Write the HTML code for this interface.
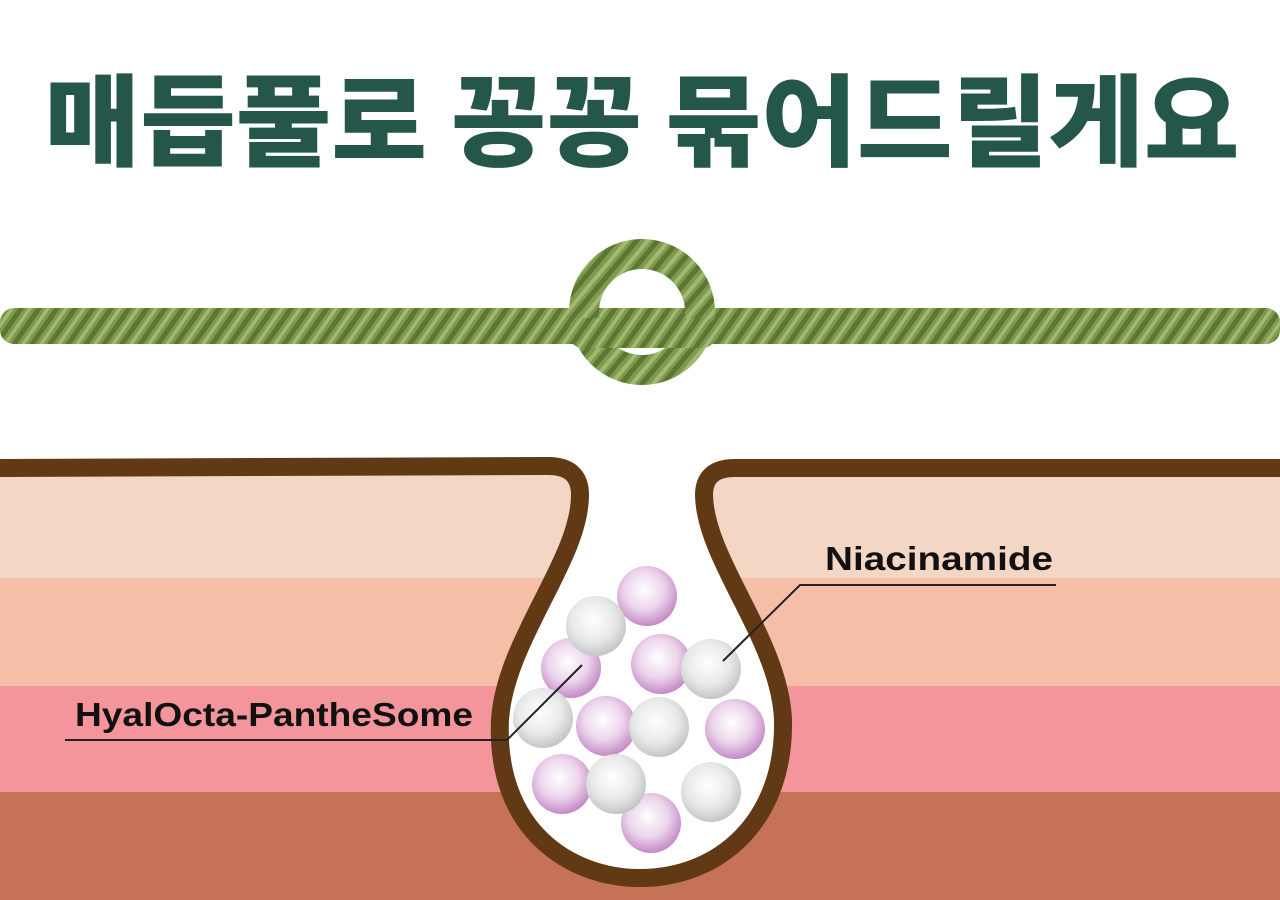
<!DOCTYPE html>
<html><head><meta charset="utf-8"><style>body{margin:0;background:#fff}svg{display:block}</style></head><body>
<svg width="1280" height="900" viewBox="0 0 1280 900" xmlns="http://www.w3.org/2000/svg">
<defs>
<radialGradient id="pk" cx="0.45" cy="0.4" r="0.6"><stop offset="0" stop-color="#fff"/><stop offset="0.55" stop-color="#ecd5ec"/><stop offset="1" stop-color="#c58ac6"/></radialGradient>
<radialGradient id="wh" cx="0.45" cy="0.4" r="0.6"><stop offset="0" stop-color="#fff"/><stop offset="0.6" stop-color="#e8e9e9"/><stop offset="1" stop-color="#c4c5c5"/></radialGradient>
<pattern id="rope" width="18" height="40" patternUnits="userSpaceOnUse" patternTransform="skewX(-35)">
<rect width="18" height="40" fill="#7f9a4c"/><rect x="0" width="6" height="40" fill="#5b7733"/><rect x="10" width="4" height="40" fill="#a3b872"/></pattern>
<pattern id="rope2" width="16" height="16" patternUnits="userSpaceOnUse" patternTransform="rotate(40)">
<rect width="16" height="16" fill="#7f9a4c"/><rect width="5" height="16" fill="#5b7733"/><rect x="9" width="4" height="16" fill="#a3b872"/></pattern>
</defs>
<text x="642" y="158" text-anchor="middle" font-family="'Noto Sans CJK KR',sans-serif" font-weight="900" font-size="100" fill="#24564a" textLength="1195" lengthAdjust="spacingAndGlyphs">매듭풀로 꽁꽁 묶어드릴게요</text>
<rect x="0" y="308" width="1280" height="36" fill="url(#rope)" rx="14"/>
<circle cx="642" cy="312" r="58" fill="none" stroke="url(#rope2)" stroke-width="30"/>
<rect x="570" y="318" width="145" height="30" fill="url(#rope)" rx="12"/>
<rect x="0" y="470" width="1280" height="108" fill="#f3d6c4"/>
<rect x="0" y="578" width="1280" height="108" fill="#f5bea7"/>
<rect x="0" y="686" width="1280" height="106" fill="#f4959b"/>
<rect x="0" y="792" width="1280" height="108" fill="#c57256"/>
<path d="M-10 400 L-10 468 L548 466 Q580 466 580 495 C580 560 505 640 500 720 C495 830 570 878 640 878 C720 878 785 820 783 720 C780 640 705 560 704 495 Q704 468 735 468 L1290 468 L1290 400 Z" fill="#fff"/>
<path d="M-10 468 L548 466 Q580 466 580 495 C580 560 505 640 500 720 C495 830 570 878 640 878 C720 878 785 820 783 720 C780 640 705 560 704 495 Q704 468 735 468 L1290 468" fill="none" stroke="#613915" stroke-width="18"/>
<g>
<circle cx="647" cy="596" r="30" fill="url(#pk)"/>
<circle cx="571" cy="668" r="30" fill="url(#pk)"/>
<circle cx="596" cy="626" r="30" fill="url(#wh)"/>
<circle cx="661" cy="664" r="30" fill="url(#pk)"/>
<circle cx="711" cy="669" r="30" fill="url(#wh)"/>
<circle cx="543" cy="718" r="30" fill="url(#wh)"/>
<circle cx="606" cy="726" r="30" fill="url(#pk)"/>
<circle cx="659" cy="727" r="30" fill="url(#wh)"/>
<circle cx="735" cy="729" r="30" fill="url(#pk)"/>
<circle cx="651" cy="823" r="30" fill="url(#pk)"/>
<circle cx="562" cy="784" r="30" fill="url(#pk)"/>
<circle cx="616" cy="784" r="30" fill="url(#wh)"/>
<circle cx="711" cy="792" r="30" fill="url(#wh)"/>
</g>
<polyline points="582,665 507,740 65,740" fill="none" stroke="#222" stroke-width="2"/>
<polyline points="723,661 800,585 1056,585" fill="none" stroke="#222" stroke-width="2"/>
<text x="75" y="726" font-family="'Liberation Sans',sans-serif" font-weight="bold" font-size="33" fill="#111" textLength="398" lengthAdjust="spacingAndGlyphs">HyalOcta-PantheSome</text>
<text x="825" y="570" font-family="'Liberation Sans',sans-serif" font-weight="bold" font-size="33" fill="#111" textLength="228" lengthAdjust="spacingAndGlyphs">Niacinamide</text>
</svg>
</body></html>
